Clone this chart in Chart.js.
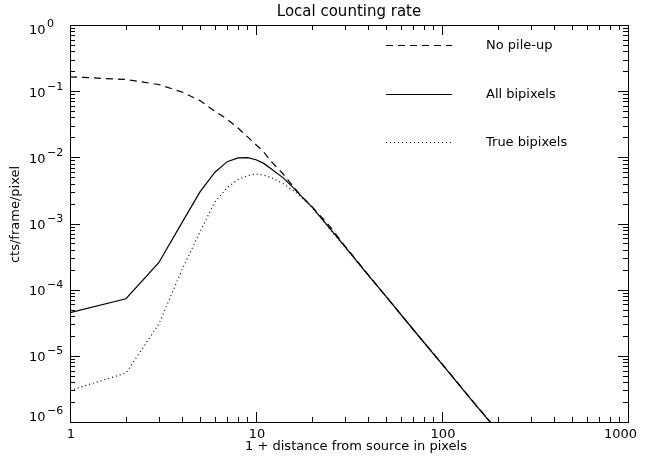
<!DOCTYPE html>
<html>
<head>
<meta charset="utf-8">
<script src="https://cdn.jsdelivr.net/npm/chart.js@4.4.1/dist/chart.umd.min.js"></script>
<style>
  html, body { margin: 0; padding: 0; background: #fff; }
  canvas { display: block; }
</style>
</head>
<body>
<canvas id="graficoConteo" width="645" height="466"></canvas>
<script>
const TITULO = 'Local counting rate';
const TITULO_X = '1 + distance from source in pixels';
const TITULO_Y = 'cts/frame/pixel';

// 1 + distance from source (pixels)
const distance = [1, 2, 3, 4, 5, 6, 7, 8, 9, 10, 11, 12, 14, 16, 18, 20, 25, 30, 40, 50, 70, 100, 150, 200];

const seriesNames = ['No pile-up', 'All bipixels', 'True bipixels'];
const noPileUp = [0.165, 0.150, 0.126, 0.097, 0.072, 0.050, 0.0375, 0.0278, 0.0204, 0.0155, 0.0121, 0.0088,
    0.0056, 0.0035, 0.0024, 0.0018, 9.0e-4, 4.6e-4, 1.7e-4, 7.9e-5, 2.5e-5, 7.6e-6, 1.9e-6, 7.3e-7];
const allBipixels = [4.5e-5, 7.3e-5, 2.55e-4, 1.03e-3, 3.0e-3, 5.9e-3, 8.6e-3, 9.8e-3, 9.9e-3, 9.2e-3, 8.1e-3, 6.8e-3,
    4.9e-3, 3.4e-3, 2.4e-3, 1.78e-3, 8.4e-4, 4.5e-4, 1.68e-4, 7.9e-5, 2.5e-5, 7.5e-6, 1.88e-6, 7.2e-7];
const trueBipixels = [3.0e-6, 5.5e-6, 3.0e-5, 2.0e-4, 7.5e-4, 2.1e-3, 3.5e-3, 4.6e-3, 5.3e-3, 5.6e-3, 5.4e-3, 5.0e-3,
    4.0e-3, 3.1e-3, 2.35e-3, 1.75e-3, 8.2e-4, 4.45e-4, 1.67e-4, 7.9e-5, 2.5e-5, 7.5e-6, 1.88e-6, 7.2e-7];

const xTickValues = [1, 10, 100, 1000];
const xTickLabels = ['1', '10', '100', '1000'];
const yTickExponents = [0, -1, -2, -3, -4, -5, -6];
const yTickExpLabels = ['0', '\u22121', '\u22122', '\u22123', '\u22124', '\u22125', '\u22126'];

const FUENTE = 'DejaVu Sans';
const dashes = [[7, 5], [], [1, 3]];

function puntos(valores) {
    return distance.map(function (d, i) { return { x: d, y: valores[i] }; });
}

// ticks hacia dentro, marco, etiquetas, titulos y leyenda (estilo IDL)
const marcoIDL = {
    id: 'marcoIDL',
    afterDatasetsDraw: function (chart) {
        const ctx = chart.ctx;
        const a = chart.chartArea;
        const sx = chart.scales.x, sy = chart.scales.y;
        ctx.save();
        ctx.strokeStyle = '#000';
        ctx.lineWidth = 1;
        ctx.strokeRect(Math.round(a.left) + 0.5, Math.round(a.top) + 0.5,
            Math.round(a.right - a.left), Math.round(a.bottom - a.top));

        ctx.beginPath();
        for (let i = 0; i < xTickValues.length; i++) {
            for (let m = 1; m <= 9; m++) {
                if (i === xTickValues.length - 1 && m > 1) break;
                const px = Math.round(sx.getPixelForValue(xTickValues[i] * m)) + 0.5;
                const len = m === 1 ? 10 : 5;
                ctx.moveTo(px, a.bottom); ctx.lineTo(px, a.bottom - len);
                ctx.moveTo(px, a.top); ctx.lineTo(px, a.top + len);
            }
        }
        for (let i = 0; i < yTickExponents.length; i++) {
            for (let m = 1; m <= 9; m++) {
                if (i === yTickExponents.length - 1 && m > 1) break;
                const py = Math.round(sy.getPixelForValue(Math.pow(10, yTickExponents[yTickExponents.length - 1 - i]) * m)) + 0.5;
                const len = m === 1 ? 10 : 5;
                ctx.moveTo(a.left, py); ctx.lineTo(a.left + len, py);
                ctx.moveTo(a.right, py); ctx.lineTo(a.right - len, py);
            }
        }
        ctx.stroke();

        ctx.fillStyle = '#000';
        ctx.textBaseline = 'middle';

        // titulo
        ctx.textAlign = 'center';
        ctx.font = '15px "' + FUENTE + '"';
        ctx.fillText(TITULO, (a.left + a.right) / 2, 12);

        // etiquetas eje x
        ctx.font = '13px "' + FUENTE + '"';
        xTickValues.forEach(function (v, i) {
            let px = sx.getPixelForValue(v) + 1;
            const w = ctx.measureText(xTickLabels[i]).width;
            px = Math.min(px, a.right + 9 - w / 2);
            ctx.fillText(xTickLabels[i], px, 434.5);
        });

        // etiquetas eje y
        ctx.textAlign = 'left';
        yTickExponents.forEach(function (e, i) {
            const py = sy.getPixelForValue(Math.pow(10, e));
            const cy = Math.min(Math.max(py + 2, a.top + 5.5), a.bottom - 4.3);
            ctx.font = '13px "' + FUENTE + '"';
            ctx.fillText('10', 29, cy);
            ctx.font = '11px "' + FUENTE + '"';
            ctx.fillText(yTickExpLabels[i], 47, cy - 6.5);
        });

        // titulos de ejes
        ctx.font = '13px "' + FUENTE + '"';
        ctx.textAlign = 'center';
        ctx.fillText(TITULO_X, (a.left + a.right) / 2 + 7, 447);
        ctx.save();
        ctx.translate(16, (a.top + a.bottom) / 2 - 9);
        ctx.rotate(-Math.PI / 2);
        ctx.fillText(TITULO_Y, 0, 0);
        ctx.restore();

        // leyenda
        const filas = [45, 94, 142];
        ctx.textAlign = 'left';
        seriesNames.forEach(function (nombre, i) {
            const ly = filas[i] + 0.5;
            ctx.setLineDash(dashes[i]);
            ctx.lineWidth = 1.2;
            ctx.beginPath();
            ctx.moveTo(386, ly); ctx.lineTo(452, ly);
            ctx.stroke();
            ctx.fillText(nombre, 486, ly);
        });
        ctx.restore();
    }
};

const GRAFICO = document.getElementById('graficoConteo');

let grafica = new Chart(GRAFICO, {
    type: 'line',
    data: {
        datasets: [{
            label: seriesNames[0],
            data: puntos(noPileUp),
            borderColor: '#000',
            borderWidth: 1.2,
            borderDash: dashes[0],
            pointRadius: 0,
            tension: 0
        }, {
            label: seriesNames[1],
            data: puntos(allBipixels),
            borderColor: '#000',
            borderWidth: 1.2,
            pointRadius: 0,
            tension: 0
        }, {
            label: seriesNames[2],
            data: puntos(trueBipixels),
            borderColor: '#000',
            borderWidth: 1.2,
            borderDash: dashes[2],
            pointRadius: 0,
            tension: 0
        }]
    },
    options: {
        responsive: false,
        animation: false,
        layout: { padding: { left: 0, right: 17, top: 25, bottom: 0 } },
        plugins: {
            legend: { display: false },
            tooltip: { enabled: false },
            title: { display: false }
        },
        scales: {
            x: {
                type: 'logarithmic',
                min: 1,
                max: 1000,
                grid: { display: false, drawTicks: false },
                border: { display: false },
                ticks: { display: false },
                afterFit: function (scale) { scale.height = 44; }
            },
            y: {
                type: 'logarithmic',
                min: 1e-6,
                max: 1,
                grid: { display: false, drawTicks: false },
                border: { display: false },
                ticks: { display: false },
                afterFit: function (scale) { scale.width = 70; }
            }
        }
    },
    plugins: [marcoIDL]
});
</script>
</body>
</html>
